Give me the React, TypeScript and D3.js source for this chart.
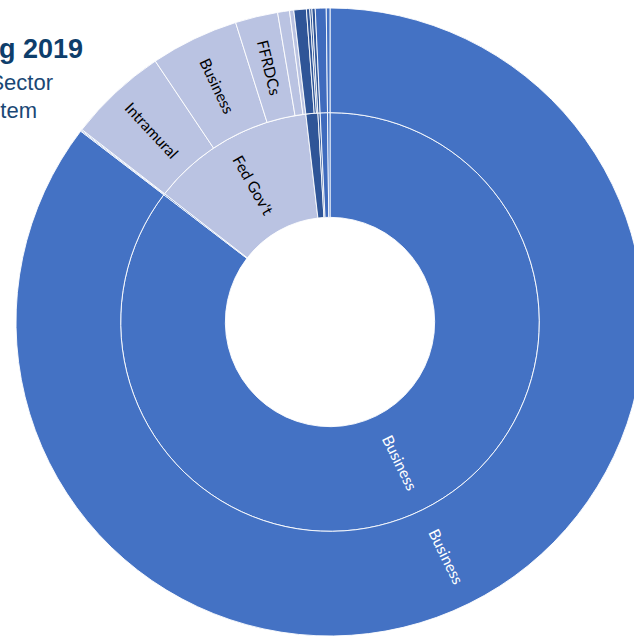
import React from "react";
import * as d3 from "d3";

// Inner ring: funding sectors (clockwise from 12 o'clock)
const categories = ["Business", "Nonfederal", "Fed Gov't", "Higher Ed", "State Gov't", "Nonprofit", "Other"];
// Outer ring: items within each sector
const childNames = [
  ["Business"],
  ["Business", "Other"],
  ["Intramural", "Business", "FFRDCs", "Universities", "Nonprofits"],
  ["Universities", "Business", "Other"],
  ["Universities"],
  ["Nonprofits"],
  ["Other"],
];
// Shares of total (%)
const childValues = [
  [85.4],
  [0.05, 0.05],
  [5.11, 4.53, 2.19, 0.61, 0.22],
  [0.64, 0.17, 0.11],
  [0.17],
  [0.56],
  [0.19],
];

const palette = ["#4472C4", "#4472C4", "#BAC3E2", "#2F5597", "#2F5597", "#3F6BBD", "#4472C4"];
const labelColor = ["#FFFFFF", "#FFFFFF", "#000000", "#FFFFFF", "#FFFFFF", "#FFFFFF", "#FFFFFF"];

const W = 634;
const H = 638;
const CX = 330;
const CY = 322;
const R = 314;

type Node = { name: string; idx?: number; value?: number; children?: Node[] };

export default function App() {
  const data: Node = {
    name: "root",
    children: categories.map((c, i) => ({
      name: c,
      idx: i,
      children: childNames[i].map((n, j) => ({ name: n, idx: i, value: childValues[i][j] })),
    })),
  };
  const root = d3.hierarchy<Node>(data).sum((d) => d.value || 0);
  d3.partition<Node>().size([2 * Math.PI, R])(root);

  const arc = d3
    .arc<any>()
    .startAngle((d: any) => d.x0)
    .endAngle((d: any) => d.x1)
    .innerRadius((d: any) => d.y0)
    .outerRadius((d: any) => d.y1);

  const nodes = root.descendants().filter((d: any) => d.depth > 0) as any[];

  return (
    <svg
      width={W}
      height={H}
      style={{ position: "absolute", left: 0, top: 0, display: "block" }}
    >
      <rect width={W} height={H} fill="#FFFFFF" />
      <g transform={`translate(${CX},${CY})`}>
        {nodes.map((d, i) => (
          <path
            key={i}
            d={arc(d) as string}
            fill={palette[d.data.idx]}
            stroke="#FFFFFF"
            strokeWidth={0.9}
          />
        ))}
        {nodes
          .filter((d) => ((d.x1 - d.x0) * 180) / Math.PI > 5)
          .map((d, i) => {
            const a = (((d.x0 + d.x1) / 2) * 180) / Math.PI;
            const r = (d.y0 + d.y1) / 2;
            return (
              <text
                key={"t" + i}
                transform={`rotate(${a - 90}) translate(${r},0) rotate(${a < 180 ? 0 : 180})`}
                textAnchor="middle"
                dy="0.35em"
                fontFamily="Lato, 'Open Sans', sans-serif"
                fontSize={15.5}
                fill={labelColor[d.data.idx]}
              >
                {d.data.name}
              </text>
            );
          })}
      </g>
      <g fontFamily="'Liberation Sans', Arial, sans-serif">
        <text x={83} y={58} textAnchor="end" fontSize={27} fontWeight="bold" fill="#0E3E6B">
          g 2019
        </text>
        <text x={53} y={90} textAnchor="end" fontSize={22} fill="#1A4775">
          Sector
        </text>
        <text x={37} y={118} textAnchor="end" fontSize={22} fill="#1A4775">
          tem
        </text>
      </g>
    </svg>
  );
}
